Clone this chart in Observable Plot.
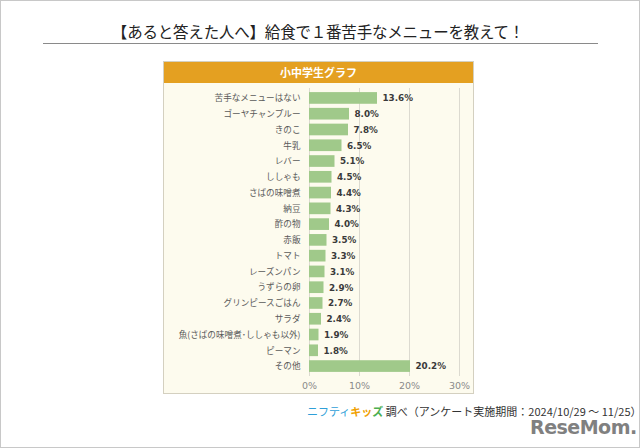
<!DOCTYPE html>
<html>
<head>
<meta charset="utf-8">
<script src="https://cdn.jsdelivr.net/npm/d3@7"></script>
<script src="https://cdn.jsdelivr.net/npm/@observablehq/plot@0.6"></script>
<style>
  html, body { margin: 0; padding: 0; background: #fff; }
  #page {
    position: relative; width: 638px; height: 446px;
    border: 1px solid #c8c8c8; background: #fff; overflow: hidden;
    font-family: "Noto Sans CJK JP", "Noto Sans", sans-serif;
  }
  #title {
    position: absolute; left: 0; width: 634px; top: 19px; text-align: center;
    font-size: 15.5px; color: #222; line-height: 22px; letter-spacing: -0.2px;
  }
  #rule { position: absolute; left: 42px; top: 42px; width: 555px; height: 0; border-top: 1px solid #8a8a8a; }
  #panel {
    position: absolute; left: 162px; top: 60px; width: 309px; height: 331px;
    border: 1px solid #d4d0c0; background: #fdfbee;
  }
  #header {
    position: absolute; left: 0; top: 0; width: 309px; height: 21px; background: #e4a021;
    color: #fff; font-weight: bold; font-size: 11px; line-height: 21px; text-align: center;
  }
  #chart { position: absolute; left: 0; top: 21px; }
  #chart svg { font-family: "Noto Sans CJK JP", sans-serif; }
  #chart g[aria-label="y-axis tick label"] { font-size: 8.6px; }
  #chart g[aria-label="x-axis tick label"] { font-size: 9.5px; font-family: "DejaVu Sans", sans-serif; }
  #footer {
    position: absolute; left: 306px; top: 403px; font-size: 11px; color: #333; white-space: nowrap; line-height: 15px;
  }
  #footer .b { color: #2f9fd8; }
  #footer .o { color: #f0a000; font-weight: bold; }
  #footer .g { color: #4caf50; font-weight: bold; }
  #wm {
    position: absolute; left: 529px; top: 419px; font-family: "DejaVu Sans", sans-serif;
    font-weight: bold; font-size: 19px; line-height: 14px; color: #6a6a6a; opacity: 0.85; letter-spacing: -0.5px;
  }
</style>
</head>
<body>
<div id="page">
  <div id="title">【あると答えた人へ】給食で１番苦手なメニューを教えて！</div>
  <div id="rule"></div>
  <div id="panel">
    <div id="header">小中学生グラフ</div>
    <div id="chart"></div>
  </div>
  <div id="footer"><span class="b">ニフティ</span><span class="o">キッ</span><span class="g">ズ</span> 調べ（アンケート実施期間：2024/10/29 ～ 11/25）</div>
  <div id="wm">ReseMom.</div>
</div>
<script>
const categories = [
  "苦手なメニューはない", "ゴーヤチャンプルー", "きのこ", "牛乳", "レバー",
  "ししゃも", "さばの味噌煮", "納豆", "酢の物", "赤飯", "トマト",
  "レーズンパン", "うずらの卵", "グリンピースごはん", "サラダ",
  "魚(さばの味噌煮･ししゃも以外)", "ピーマン", "その他"
];
const values = [13.6, 8.0, 7.8, 6.5, 5.1, 4.5, 4.4, 4.3, 4.0, 3.5, 3.3, 3.1, 2.9, 2.7, 2.4, 1.9, 1.8, 20.2];
const xTicks = [0, 10, 20, 30];

const data = categories.map((c, i) => ({category: c, value: values[i]}));

const chart = Plot.plot({
  width: 309,
  height: 310,
  marginLeft: 145,
  marginRight: 14,
  marginTop: 5,
  marginBottom: 17,
  style: {background: "transparent", overflow: "visible"},
  x: {domain: [0, 30], ticks: xTicks, label: null},
  y: {domain: categories, padding: 0.26, round: false, label: null},
  marks: [
    Plot.ruleX(xTicks, {stroke: "#dcdad0", strokeWidth: 1}),
    Plot.barX(data, {x: "value", y: "category", fill: "#a0c98a"}),
    Plot.text(data, {
      x: "value", y: "category", text: d => d.value.toFixed(1) + "%",
      dx: 5, textAnchor: "start", fontWeight: "bold", fill: "#3a3a3a",
      fontSize: 8.8, fontFamily: "DejaVu Sans, sans-serif"
    }),
    Plot.axisX({ticks: xTicks, tickSize: 0, tickPadding: 6, tickFormat: d => d + "%", color: "#8a8a8a", label: null}),
    Plot.axisY({tickSize: 0, tickPadding: 9, color: "#5a5a5a", label: null})
  ]
});
document.getElementById("chart").appendChild(chart);
</script>
</body>
</html>
